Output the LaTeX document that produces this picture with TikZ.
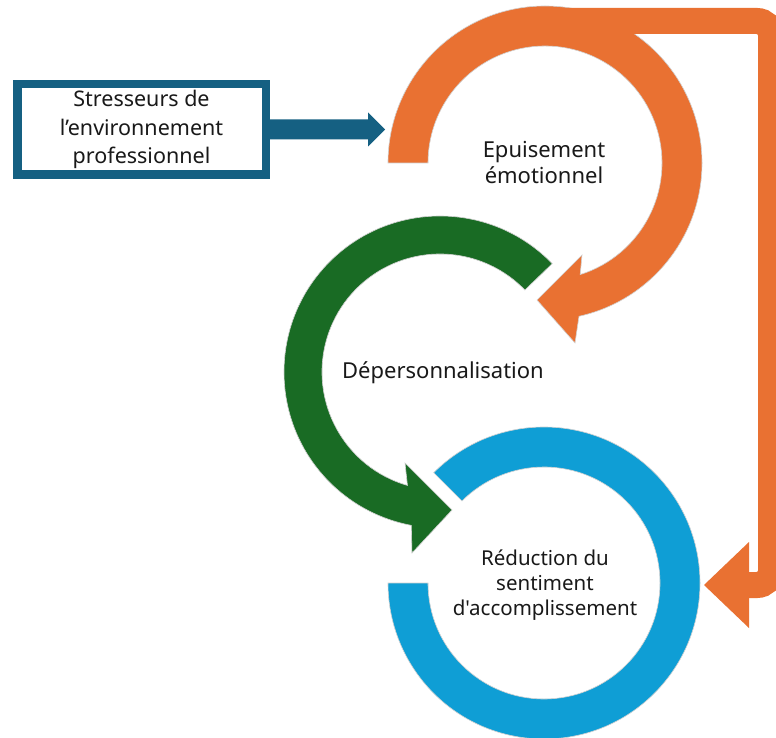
\documentclass[tikz,border=0pt]{standalone}
\usepackage{fontspec}
\newfontfamily\nf{Noto Sans}
\definecolor{ora}{HTML}{E97132}
\definecolor{grn}{HTML}{196B24}
\definecolor{sky}{HTML}{0F9ED5}
\definecolor{navy}{HTML}{156082}
\tikzset{
  rim/.style={draw=black!18, line width=0.6pt},
  lbl/.style={font=\nf\fontsize{22}{26}\selectfont, align=center, text=black!90, inner sep=0pt},
  lblsmall/.style={font=\nf\fontsize{20.5}{25}\selectfont, align=center, text=black!90, inner sep=0pt},
  boxlbl/.style={font=\nf\fontsize{21.5}{28.5}\selectfont, align=center, text=black!90},
}
\begin{document}
\begin{tikzpicture}[x=1pt,y=1pt]
\useasboundingbox (0,0) rectangle (776,737);
\clip (0,0) rectangle (776,737);
\fill[white] (0,0) rectangle (776,737);

% orange circular arrow
\begin{scope}[shift={(545,574)}]
\filldraw[fill=ora, rim] (180:157) arc[start angle=180, end angle=-77.5, radius=157]
  -- (30,-180) -- (-8,-137) -- (37,-92) -- (-72.5:117)
  arc[start angle=-72.5, end angle=180, radius=117] -- cycle;
\coordinate (otop) at (0,142);
\end{scope}

% orange feedback connector
\coordinate (ocorner1) at (771,716);
\coordinate (ocorner2) at (771,152);
\coordinate (obase) at (749,152);
\draw[ora, line width=26, rounded corners=14] (otop) -- (ocorner1) -- (ocorner2) -- (obase);
\fill[ora] (obase) ++(0,43) -- (704,152) -- ++(45,-43) -- cycle;

% green circular arrow
\begin{scope}[shift={(440,365)}]
\filldraw[fill=grn, rim] (44:156) arc[start angle=44, end angle=259.4, radius=156]
  -- (-28,-181) -- (12,-138) -- (-35,-91) -- (254:118)
  arc[start angle=254, end angle=44, radius=118] -- cycle;
\end{scope}

% blue ring
\begin{scope}[shift={(544,154)}]
\filldraw[fill=sky, rim] (135:156) arc[start angle=135, end angle=-180, radius=156]
  -- (-180:116) arc[start angle=-180, end angle=135, radius=116] -- cycle;
\end{scope}

% stressor box and arrow
\node[draw=navy, line width=8.5, fill=white, minimum width=248.5, minimum height=90.5, boxlbl]
  (stress) at (141.5,607.5) {Stresseurs de\\l’environnement\\professionnel};
\fill[navy] ([yshift=-10]stress.east) -- ++(98,0) -- ++(0,-7) -- ++(17,17)
  -- ++(-17,17) -- ++(0,-7) -- ++(-98,0) -- cycle;

% labels
\node[lbl] (epuis) at (544,574) {Epuisement\\émotionnel};
\node[lbl] (deper) at (443,364) {Dépersonnalisation};
\node[lblsmall] (reduc) at (545,152) {Réduction du\\sentiment\\d'accomplissement};
\end{tikzpicture}
\end{document}
